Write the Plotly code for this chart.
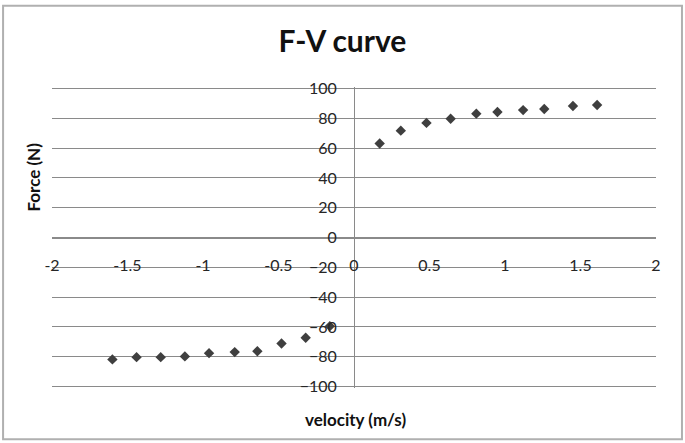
import plotly.graph_objects as go

# vitesse (m/s) et force (N)
velocity_neg = [-1.60, -1.44, -1.28, -1.12, -0.96, -0.79, -0.64, -0.48, -0.32, -0.16]
force_neg = [-81.8, -80.3, -80.3, -79.8, -77.6, -76.9, -76.3, -71.1, -67.3, -59.5]
velocity_pos = [0.17, 0.31, 0.48, 0.64, 0.81, 0.95, 1.12, 1.26, 1.45, 1.61]
force_pos = [63.1, 71.7, 76.9, 79.7, 83.1, 84.2, 85.5, 86.2, 88.2, 88.9]

x_ticks = [-2, -1.5, -1, -0.5, 0, 0.5, 1, 1.5, 2]
y_ticks = [-100, -80, -60, -40, -20, 0, 20, 40, 60, 80, 100]

velocity = velocity_neg + velocity_pos
force = force_neg + force_pos

FONT = "Lato"
GRID = "#8a8a8a"

fig = go.Figure()

fig.add_trace(go.Scatter(
    x=velocity,
    y=force,
    mode="markers",
    marker=dict(symbol="diamond", size=8, color="#3f3f3f"),
    showlegend=False,
))

fig.update_layout(
    width=685,
    height=443,
    plot_bgcolor="white",
    paper_bgcolor="white",
    margin=dict(l=52, r=29, t=87, b=55),
    font=dict(family=FONT, color="#262626", size=16),
    title=dict(
        text="<b>F-V curve</b>",
        font=dict(family=FONT, size=30, color="#111111"),
        x=0.5,
        xanchor="center",
        y=0.907,
        yanchor="middle",
    ),
    xaxis=dict(
        range=[-2, 2],
        tickvals=x_ticks,
        ticktext=[str(t) for t in x_ticks],
        showgrid=False,
        zeroline=False,
        showline=True,
        linecolor=GRID,
        linewidth=1,
        anchor="free",
        position=0.5,
        ticks="",
        ticklabelstandoff=13,
        tickfont=dict(size=16),
        automargin=False,
    ),
    yaxis=dict(
        # petite marge pour que les lignes 100 / -100 soient tracees
        range=[-101, 101],
        tickvals=y_ticks,
        showgrid=True,
        gridcolor=GRID,
        gridwidth=1,
        zeroline=False,
        showline=True,
        linecolor=GRID,
        linewidth=1,
        anchor="free",
        position=0.5,
        ticks="",
        ticklabelstandoff=14,
        tickfont=dict(size=16),
        automargin=False,
    ),
    annotations=[
        dict(
            text="<b>Force (N)</b>",
            xref="paper", yref="paper",
            x=-0.031, y=0.70,
            xanchor="center", yanchor="middle",
            textangle=-90,
            showarrow=False,
            font=dict(family=FONT, size=17, color="#111111"),
        ),
        dict(
            text="<b>velocity (m/s)</b>",
            xref="paper", yref="paper",
            x=0.503, y=-0.105,
            xanchor="center", yanchor="middle",
            showarrow=False,
            font=dict(family=FONT, size=17, color="#111111"),
        ),
    ],
    shapes=[
        # cadre du graphique (style Excel)
        dict(
            type="rect",
            xref="paper", yref="paper",
            x0=-0.081, x1=1.043, y0=-0.17, y1=1.27,
            line=dict(color="#b0b0b0", width=2),
            layer="below",
        ),
    ],
)

# pas de marge autour de la page, pas de barre d'outils
fig.write_html(
    "out.html",
    config={"displayModeBar": False},
    post_script="document.body.style.margin='0';",
)
